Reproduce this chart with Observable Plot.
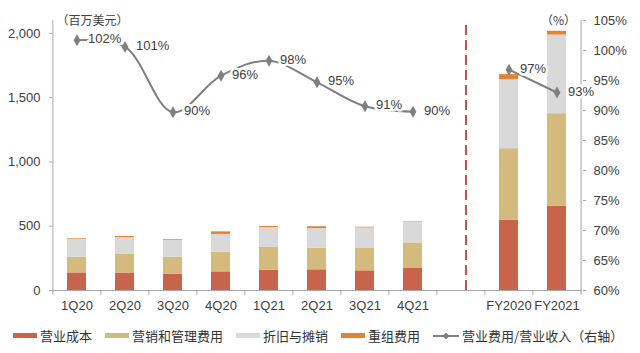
<!DOCTYPE html>
<html><head><meta charset="utf-8">
<script src="https://cdn.jsdelivr.net/npm/d3@7"></script>
<script src="https://cdn.jsdelivr.net/npm/@observablehq/plot@0.6"></script>
<style>
body{margin:0;background:#fff;}
#chart{width:640px;height:353px;overflow:hidden;position:relative;font-family:"Liberation Sans",Arial,"Noto Sans CJK SC",sans-serif;}
.legend{display:flex;align-items:center;height:35px;padding-left:13px;gap:13px;font-size:13px;color:#333;font-family:"Noto Sans CJK SC",sans-serif;white-space:nowrap;}
.item{display:flex;align-items:center;gap:3px;}
.sw{width:24px;height:5px;display:inline-block;}
</style></head><body><div id="chart"></div><script>
const periods = ["1Q20","2Q20","3Q20","4Q20","1Q21","2Q21","3Q21","4Q21","FY2020","FY2021"];
const spacer = " ";
const seriesNames = ["营业成本","营销和管理费用","折旧与摊销","重组费用"];
const seriesColors = ["#C8644B","#D5BA7D","#D9D9D9","#E5822F"];
const costOfRevenue = [137,136,127,145,158,161,153,171,545,656];
const sellingAdmin = [122,144,132,153,177,168,174,199,558,719];
const deprAmort = [138,132,132,138,155,153,160,164,537,612];
const restructuring = [5,8,6,20,8,14,5,3,39,29];
const ratioPct = [101.7,100.6,89.7,95.8,98.3,94.7,90.7,89.8,96.8,93.0];
const leftTicks = [0,500,1000,1500,2000];
const rightTicks = [60,65,70,75,80,85,90,95,100,105];
const leftTop = 2100, rightMin = 60, rightMax = 105;
const lineLabel = "营业费用/营业收入（右轴）";

const toLeft = p => (p - rightMin) / (rightMax - rightMin) * leftTop;
const fromLeft = v => rightMin + v / leftTop * (rightMax - rightMin);

const xDomain = [...periods.slice(0,8), spacer, ...periods.slice(8)];
const seriesValues = [costOfRevenue, sellingAdmin, deprAmort, restructuring];
const stacked = [];
seriesNames.forEach((s, k) => periods.forEach((p, i) => stacked.push({period: p, series: s, value: seriesValues[k][i]})));
const ratios = periods.map((p, i) => ({period: p, ratio: ratioPct[i], label: Math.round(ratioPct[i]) + "%"}));
const qRatios = ratios.slice(0, 8), fyRatios = ratios.slice(8);

const W = 640, H = 318, mL = 52, mR = 58, mT = 20, mB = 28;
const step = (W - mL - mR) / xDomain.length;
const axisGray = "#A6A6A6", textCol = "#404040", lineCol = "#7F7F7F";

const chart = Plot.plot({
  width: W, height: H, marginLeft: mL, marginRight: mR, marginTop: mT, marginBottom: mB,
  style: {fontFamily: '"Liberation Sans",Arial,"Noto Sans CJK SC",sans-serif', fontSize: "13px", color: textCol, background: "#fff"},
  x: {type: "band", domain: xDomain, paddingInner: 0.6, paddingOuter: 0.3, label: null},
  y: {domain: [0, leftTop], label: null},
  color: {domain: seriesNames, range: seriesColors},
  marks: [
    Plot.barY(stacked, {x: "period", y: "value", fill: "series"}),
    Plot.ruleY([0], {stroke: axisGray}),
    Plot.ruleX([xDomain[0]], {dx: -step/2, stroke: axisGray}),
    Plot.ruleX([xDomain[xDomain.length-1]], {dx: step/2, stroke: axisGray}),
    Plot.ruleX(xDomain, {y1: 0, y2: 0, insetBottom: -5, dx: -step/2, stroke: axisGray}),
    Plot.ruleX([xDomain[xDomain.length-1]], {y1: 0, y2: 0, insetBottom: -5, dx: step/2, stroke: axisGray}),
    Plot.ruleX([spacer], {y1: 0, y2: leftTop, dx: 5, stroke: "#C8524A", strokeWidth: 2, strokeDasharray: "10,5"}),
    Plot.axisY(leftTicks, {anchor: "left", tickFormat: d3.format(","), tickSize: 3, tickPadding: 9, stroke: axisGray, fill: textCol, fontSize: 13, label: null}),
    Plot.axisY(rightTicks.map(toLeft), {anchor: "right", tickFormat: d => Math.round(fromLeft(d)) + "%", tickSize: 3, tickPadding: 8, stroke: axisGray, fill: textCol, fontSize: 13, label: null}),
    Plot.axisX({tickSize: 0, tickPadding: 10, fill: textCol, fontSize: 13, label: null}),
    Plot.line(qRatios, {x: "period", y: d => toLeft(d.ratio), curve: "catmull-rom", stroke: lineCol, strokeWidth: 2}),
    Plot.line(fyRatios, {x: "period", y: d => toLeft(d.ratio), stroke: lineCol, strokeWidth: 2}),
    Plot.dot(ratios, {x: "period", y: d => toLeft(d.ratio), symbol: "diamond", r: 3.6, fill: lineCol, stroke: null}),
    Plot.text(ratios, {x: "period", y: d => toLeft(d.ratio), text: "label", dx: 11, dy: -1, textAnchor: "start", fill: textCol, stroke: "white", strokeWidth: 5, fontSize: 13}),
    Plot.text(["（百万美元）"], {frameAnchor: "top-left", dx: 40, dy: -4, textAnchor: "middle", fontSize: 12, fill: textCol, fontFamily: '"Noto Sans CJK SC",sans-serif'}),
    Plot.text(["（%）"], {frameAnchor: "top-right", dx: -24, dy: -4, textAnchor: "middle", fontSize: 12, fill: textCol, fontFamily: '"Noto Sans CJK SC",sans-serif'})
  ]
});
const root = document.getElementById("chart");
root.appendChild(chart);

const legend = document.createElement("div");
legend.className = "legend";
seriesNames.forEach((s, k) => {
  const it = document.createElement("div"); it.className = "item";
  const sw = document.createElement("span"); sw.className = "sw"; sw.style.background = seriesColors[k];
  const t = document.createElement("span"); t.textContent = s;
  it.appendChild(sw); it.appendChild(t); legend.appendChild(it);
});
const li = document.createElement("div"); li.className = "item";
li.innerHTML = `<svg width="26" height="10"><line x1="0" y1="5" x2="26" y2="5" stroke="${lineCol}" stroke-width="2"/><path d="M13 1.5 L16.5 5 L13 8.5 L9.5 5 Z" fill="${lineCol}"/></svg>`;
const lt = document.createElement("span"); lt.textContent = lineLabel;
li.appendChild(lt); legend.appendChild(li);
root.appendChild(legend);
</script></body></html>
